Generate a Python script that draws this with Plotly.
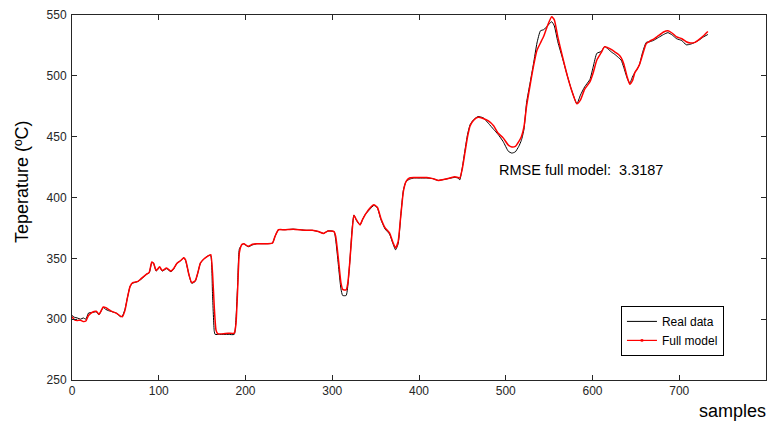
import plotly.graph_objects as go

# ---- data ----
samples = [0,3,6,10,13,16,19,23,28,31,33,36,39,42,47,51,56,58,61,64,67,70,76,80,86,89,92,94,97,101,104,109,114,117,121,125,129,131,135,138,142,145,148,152,158,160,162,164,165,170,180,187,189,191,193,196,198,203,208,213,220,231,234,238,245,255,263,270,277,284,290,295,302,304,307,310,312,316,320,323,325,328,332,335,338,343,348,352,356,361,366,370,373,376,379,382,385,389,394,400,409,416,422,430,441,445,447,450,453,456,459,463,468,474,480,486,491,497,503,507,511,515,518,521,524,528,532,536,540,544,548,553,556,560,566,571,576,582,586,591,597,601,605,610,614,618,622,626,630,633,636,640,643,646,649,651,654,658,662,666,670,676,682,687,692,697,703,708,713,718,723,728,733]
real_data = [303,301.5,301,300,301,300,305,305.5,306,303.5,306,309.5,308,307,306,305,302,302.5,308,318,327,329.5,331,333,337,338,346.5,346,339.5,342.5,339.5,341.5,339,341,346,348,350.5,348,336,329.5,331,338,346,349.5,352.5,352,320,290,287.5,287.5,287.5,287.5,300,330,358,361,362,359.5,361,362,362,362.5,368,373.5,373.5,374,373.5,373,373,372,370.5,372.5,372,365,345,325,319.5,319.5,345,375,385.5,381,377.5,382,386,390,393.5,391.5,382,374,370,362,357,362,385,406,413,415,416,416,416,415.5,414,415,416.5,416,414.5,425,439,452,460,464,466.5,465.5,461,456,452,446,438,436.5,437.5,442,447,456,478,494,510,527,537,538,541,544.5,541,528,513,500,488,477,484,491,497,508,518.5,520,524,522,519.5,517.5,515,513,507,498,494,499,503,505,509,520,527.5,528,529,531.5,534,535.5,533.5,530.5,529,525.5,526,527.5,529.5,532,534]

model_samples = [0,3,6,10,13,16,19,23,28,31,33,36,39,42,47,51,56,58,61,64,67,70,76,80,86,89,92,94,97,101,104,109,114,117,121,125,129,131,135,138,142,145,148,152,158,160,162,164,166,168,180,187,189,191,193,196,198,203,208,213,220,231,234,238,245,255,263,270,277,284,290,295,302,304,307,310,312,316,318,320,323,325,328,332,335,338,343,348,352,356,361,366,370,373,376,379,382,385,389,394,400,409,416,422,430,441,445,447,450,453,456,459,463,468,474,480,486,491,497,503,507,511,515,518,521,524,528,532,536,540,544,548,553,556,560,566,571,576,582,586,591,597,601,605,610,614,618,622,626,630,633,636,640,643,646,649,651,654,658,662,666,670,676,682,687,692,697,703,708,713,718,723,728,733]
full_model = [302,299.5,299,299,298,298.5,303,305.5,306.5,304,306,310,309.5,308,306,305,302.5,302,307,318,327,330,331,333.5,337,338.5,347,346,340,343,340,342,339.5,341.5,346,348,350.5,348.5,336,330,331.5,338,346,349.5,352.5,353,338,310,291,288,288.5,288.5,296,325,355,361.5,362,360,361.5,362,362,362.5,368,373.5,373.5,374,373.5,373,373,372,370.5,372.5,372,368,350,330,324.5,324,330,345,373,385.5,381.5,377.5,382,386,391,394,392,383,375,371,363,358.5,364,385,405,413,416,416.5,416.5,416.5,415.5,414,415,417,416.5,416,424,437,450,459,463.5,466,465,463,459,453,449,443,441.5,442,446,450,458,475,492,508,521,527,533,541,548.5,546,532,514,500,488,477,480,489,495,503,513,519,524,523,521.5,519.5,517.5,515,510,499,493,496,503,505,509,518,526.5,528.5,530,533,536,537,535,532,530.5,528,527,527.5,530,533,536.5]

x_ticks = [0, 100, 200, 300, 400, 500, 600, 700]
y_ticks = [250, 300, 350, 400, 450, 500, 550]
rmse_text = "RMSE full model:  3.3187"

FONT = "Liberation Sans, Arial, sans-serif"
AX = "#262626"

fig = go.Figure()
fig.add_trace(go.Scatter(x=samples, y=real_data, mode="lines", name="Real data",
                         line=dict(color="black", width=1, shape="spline", smoothing=0.5)))
fig.add_trace(go.Scatter(x=model_samples, y=full_model, mode="lines", name="Full model",
                         showlegend=False,
                         line=dict(color="#ff0000", width=1.5, shape="spline", smoothing=0.5)))
# legend entry for the model (line with a small point marker, as in the reference)
fig.add_trace(go.Scatter(x=[None], y=[None], mode="lines+markers", name="Full model",
                         line=dict(color="#ff0000", width=1.2),
                         marker=dict(color="#ff0000", size=2.5, symbol="square")))

fig.add_annotation(x=490, y=422.6, xref="x", yref="y", text=rmse_text, showarrow=False,
                   xanchor="left", yanchor="middle", font=dict(family=FONT, size=14.5, color="black"))
fig.add_annotation(x=-0.072, y=0.5425, xref="paper", yref="paper", text="Teperature (ºC)",
                   textangle=-90, showarrow=False, xanchor="center", yanchor="middle",
                   font=dict(family=FONT, size=18, color="black"))
fig.add_annotation(x=1.003, y=-0.085, xref="paper", yref="paper", text="samples",
                   showarrow=False, xanchor="right", yanchor="middle",
                   font=dict(family=FONT, size=18, color="black"))

axis_common = dict(showgrid=False, zeroline=False, showline=True, linecolor=AX, linewidth=1,
                   mirror="ticks", ticks="inside", ticklen=5, tickcolor=AX, tickwidth=1,
                   tickfont=dict(family=FONT, size=12, color=AX))
fig.update_xaxes(range=[0, 800], tickvals=x_ticks, **axis_common)
fig.update_yaxes(range=[250, 550], tickvals=y_ticks, ticklabelstandoff=2, **axis_common)

fig.update_layout(
    width=768, height=424,
    margin=dict(l=72, r=2, t=15, b=44),
    paper_bgcolor="white", plot_bgcolor="white",
    showlegend=True,
    legend=dict(x=0.791, y=0.203, xanchor="left", yanchor="top",
                bgcolor="white", bordercolor="black", borderwidth=1,
                font=dict(family=FONT, size=12, color="black"),
                itemwidth=30, tracegroupgap=0),
)

fig.write_html("out.html")
